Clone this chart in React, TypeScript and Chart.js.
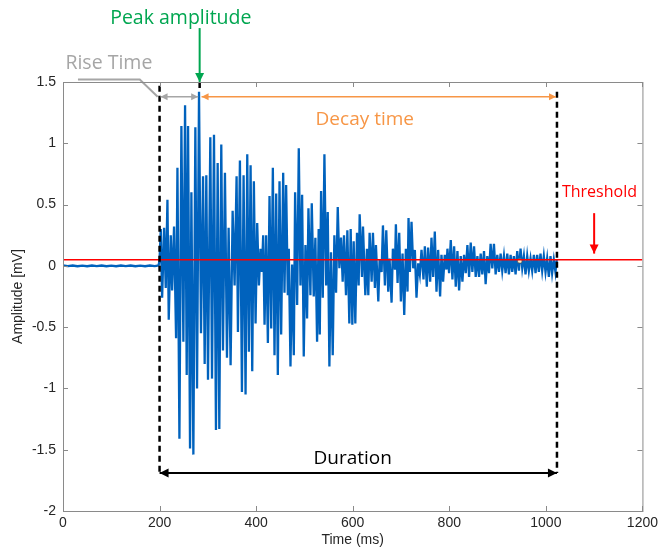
import { useEffect, useRef } from "react"
import { Chart, registerables } from "chart.js"

Chart.register(...registerables)

// waveform samples (time in ms, amplitude in mV)
const timeMs = [
  0, 10, 20, 30, 40, 50, 60, 70, 80, 90, 100, 110, 120, 130, 140, 150, 160, 170, 180, 190, 198, 200,
  202.5, 205.3, 209.4, 212.8, 216.3, 219.0, 223.2, 226.0, 230.0, 234.2, 237.0, 241.1, 245.2, 249.3,
  252.8, 256.2, 259.0, 263.1, 265.9, 270.0, 274.1, 277.6, 281.7, 285.8, 290.0, 293.4, 296.8, 300.3,
  305.1, 308.6, 312.7, 316.8, 320.3, 323.7, 327.8, 331.3, 335.4, 339.6, 343.0, 347.1, 351.3, 355.4,
  359.5, 362.3,
  366.4, 370.6, 374.0, 378.1, 381.6, 385.0, 388.5, 391.9, 395.3, 398.8, 402.2, 405.7, 409.1, 411.9,
  414.6, 417.4, 420.8, 424.3, 427.7, 431.2, 434.6, 438.0, 441.5, 444.9, 448.4, 451.8, 456.0, 458.7,
  462.1, 465.6, 467.6, 471.1, 474.5, 478.0, 480.7, 484.9, 488.3, 491.8, 495.2, 498.6, 502.1, 505.5,
  508.3, 512.4, 515.2, 519.3, 522.7, 526.2,
  529.5, 531.8, 534.5, 538.0, 541.4, 545.0, 548.3, 551.7, 555.0, 558.6, 562.0, 565.5, 569.0, 572.4,
  575.8, 579.2, 582.0, 586.1, 588.9, 593.0, 595.8, 599.2, 602.0, 605.4, 608.9, 612.3, 614.4, 619.2,
  621.3, 626.1, 629.5, 632.3, 635.0, 639.2, 641.9, 646.0, 648.1, 653.0, 655.7, 659.8, 662.6, 666.7,
  669.5, 673.6, 676.3, 680.5, 683.2, 687.4, 689.4, 692.9, 696.3,
  699.8, 703.2, 706.7, 710.1, 713.5, 715.6, 718.4, 721.8, 725.3, 728.7, 732.1, 735.6, 739.0, 742.5,
  746.6, 749.4, 753.5, 756.2, 760.4, 763.1, 766.6, 770.0, 773.5, 776.9, 781.0, 783.8, 787.2, 790.7,
  794.1, 796.2, 799.6, 803.1, 806.5, 810.0, 813.4, 816.9, 820.3, 823.7, 827.2, 830.6, 834.1, 837.5,
  841.0, 844.4, 847.8, 851.3, 854.7, 858.2,
  861.6, 865.0, 868.4, 871.9, 875.3, 878.7, 882.2, 885.6, 889.1, 892.5, 896.0, 899.4, 902.9, 906.3,
  909.7, 913.2, 916.6, 920.1, 923.5, 927.0, 930.4, 933.8, 937.3, 940.7, 944.2, 947.6, 951.1, 954.5,
  957.9, 961.4, 964.8, 968.3, 971.7, 975.2, 978.6, 982.1, 985.5, 988.9, 992.4, 995.8, 999.3, 1002.7,
  1006.2, 1009.6, 1013.0, 1016.5, 1019.9, 1022.5,
]

const amplitudeMv = [
  0.003, -0.002, 0.003, -0.003, 0.002, -0.003, 0.003, -0.002, 0.003, -0.003, 0.002, -0.003, 0.003,
  -0.002, 0.003, -0.003, 0.002, -0.003, 0.003, -0.002, 0.003, 0.05,
  0.30, -0.26, 0.31, -0.18, 0.54, -0.44, 0.25, -0.20, 0.32, -0.59, 0.80, -1.41, 1.14, -0.62,
  1.31, -0.89, 1.14, -1.49, 0.60, -1.54, 1.13, -1.00, 1.42, -0.55, 0.73, -0.80, 0.74, -0.93,
  1.05, -0.92, 1.07, -1.34, 0.84, -1.33, 0.99, -0.69, 0.76, -0.75, 0.31, -0.81, 0.45, -0.16,
  0.73, -0.54,
  0.86, -1.03, 0.74, -1.05, 0.91, -0.70, 0.82, -0.86, 0.69, -0.47, 0.35, -0.16, 0.14, -0.05,
  0.25, -0.48, 0.25, -0.63, 0.57, -0.51, 0.80, -0.73, 0.59, -0.89, 0.69, -0.56, 0.76, -0.22,
  0.66, -0.24, 0.14, -0.82, 0.01, -0.73, 0.60, -0.32, 0.96, -0.16, 0.58, -0.74, 0.17, -0.43,
  0.47, -0.24, 0.51, -0.25, 0.23, -0.62,
  0.30, -0.56, 0.61, -0.26, 0.91, -0.16, 0.44, -0.82, 0.11, -0.73, 0.25, -0.22, 0.48, -0.02,
  0.23, -0.13, 0.25, -0.24, 0.29, -0.47, 0.30, -0.48, 0.20, -0.47, 0.27, -0.16, 0.42, -0.09,
  0.32, -0.24, 0.14, -0.24, 0.27, -0.13, 0.27, -0.18, 0.17, -0.29, 0.05, -0.05, 0.33, -0.16,
  0.29, -0.21, 0.06, -0.30, 0.14, -0.03, 0.34, -0.14, 0.27,
  -0.29, 0.10, -0.40, 0.14, -0.21, 0.39, -0.05, 0.36, -0.02, 0.13, -0.26, 0.02, -0.07, 0.13,
  -0.11, 0.16, -0.17, 0.15, -0.13, 0.23, -0.09, 0.28, -0.21, 0.13, -0.25, 0.09, -0.13, 0.09,
  -0.03, 0.14, -0.06, 0.21, -0.11, 0.16, -0.17, 0.12, -0.20, 0.08, -0.13, 0.09, -0.06, 0.17,
  -0.09, 0.19, -0.05, 0.16, -0.09, 0.08,
  -0.09, 0.10, -0.07, 0.12, -0.15, 0.08, -0.06, 0.18, -0.02, 0.18, -0.07, 0.09, -0.05, 0.10,
  -0.04, 0.08, -0.06, 0.10, -0.07, 0.09, -0.05, 0.08, -0.07, 0.12, -0.04, 0.14, -0.02, 0.08,
  -0.07, 0.08, -0.04, 0.06, -0.04, 0.09, -0.06, 0.09, -0.05, 0.10, -0.04, 0.08, -0.05, 0.06,
  -0.09, 0.08, -0.06, 0.05, -0.05, 0.05,
]

const thresholdMv = 0.05
const xRange = [0, 1200]
const yRange = [-2, 1.5]

// event markers (ms / mV)
const startMs = 200
const peakMs = 283
const endMs = 1023
const peakMv = 1.42
const markerPoint = { x: 946, y: 0.04 }

const axisColor = "#8a8a8a"
const labelColor = "#262626"
const blue = "#0062bd"
const green = "#00a650"
const gray = "#a6a6a6"
const orange = "#f79646"
const red = "#ff0000"
const textFont = "'Open Sans', 'Noto Sans', sans-serif"
const axisFont = "'Liberation Sans', Arial, sans-serif"

function arrowHead(ctx: CanvasRenderingContext2D, x1: number, y1: number, x2: number, y2: number, len: number, half: number) {
  const a = Math.atan2(y2 - y1, x2 - x1)
  ctx.beginPath()
  ctx.moveTo(x2, y2)
  ctx.lineTo(x2 - len * Math.cos(a) + half * Math.sin(a), y2 - len * Math.sin(a) - half * Math.cos(a))
  ctx.lineTo(x2 - len * Math.cos(a) - half * Math.sin(a), y2 - len * Math.sin(a) + half * Math.cos(a))
  ctx.closePath()
  ctx.fill()
}

function arrow(ctx: CanvasRenderingContext2D, x1: number, y1: number, x2: number, y2: number, color: string, width: number, both: boolean, len = 8, half = 4) {
  ctx.save()
  ctx.strokeStyle = color
  ctx.fillStyle = color
  ctx.lineWidth = width
  ctx.setLineDash([])
  ctx.beginPath()
  ctx.moveTo(x1, y1)
  ctx.lineTo(x2, y2)
  ctx.stroke()
  arrowHead(ctx, x1, y1, x2, y2, len, half)
  if (both) arrowHead(ctx, x2, y2, x1, y1, len, half)
  ctx.restore()
}

function label(ctx: CanvasRenderingContext2D, text: string, x: number, y: number, color: string, size: number) {
  ctx.save()
  ctx.fillStyle = color
  ctx.font = `${size}px ${textFont}`
  ctx.textAlign = "center"
  ctx.textBaseline = "middle"
  ctx.fillText(text, x, y)
  ctx.restore()
}

const annotations = {
  id: "aeAnnotations",
  afterDatasetsDraw(chart: Chart) {
    const { ctx } = chart
    const x = chart.scales.x
    const y = chart.scales.y
    const px = (v: number) => x.getPixelForValue(v)
    const py = (v: number) => y.getPixelForValue(v)

    // dashed markers
    ctx.save()
    ctx.strokeStyle = "#000"
    ctx.lineWidth = 2.5
    ctx.setLineDash([6, 4])
    ctx.beginPath()
    ctx.moveTo(px(startMs), py(1.47))
    ctx.lineTo(px(startMs), py(-1.69))
    ctx.moveTo(px(endMs), py(1.42))
    ctx.lineTo(px(endMs), py(-1.69))
    ctx.moveTo(px(peakMs), py(1.5))
    ctx.lineTo(px(peakMs), py(peakMv))
    ctx.stroke()
    ctx.restore()

    // rise time
    ctx.save()
    ctx.strokeStyle = gray
    ctx.lineWidth = 2
    ctx.beginPath()
    ctx.moveTo(px(31), py(1.52))
    ctx.lineTo(px(159), py(1.52))
    ctx.lineTo(px(196), py(1.38))
    ctx.stroke()
    ctx.restore()
    arrow(ctx, px(startMs + 2), py(1.38), px(peakMs - 3), py(1.38), gray, 1.5, true, 7, 3.5)
    label(ctx, "Rise Time", px(95), py(1.65), gray, 19.5)

    // decay time
    arrow(ctx, px(peakMs + 4), py(1.38), px(endMs - 2), py(1.38), orange, 1.5, true, 7, 3.5)
    label(ctx, "Decay time", px(625), py(1.19), orange, 19)

    // peak amplitude
    arrow(ctx, px(peakMs), py(1.94), px(peakMs), py(1.5), green, 2, false, 9, 4.5)
    label(ctx, "Peak amplitude", px(244), py(2.02), green, 19.5)

    // threshold
    arrow(ctx, px(1100), py(0.43), px(1100), py(0.1), red, 2, false, 9, 4.5)
    label(ctx, "Threshold", px(1111), py(0.595), red, 16)

    // duration
    arrow(ctx, px(startMs), py(-1.69), px(endMs), py(-1.69), "#000", 2, true, 9, 4.5)
    label(ctx, "Duration", px(600), py(-1.575), "#000", 19)
  },
  afterDraw(chart: Chart) {
    const { ctx, chartArea: a } = chart
    const x = chart.scales.x
    const y = chart.scales.y
    ctx.save()
    ctx.strokeStyle = axisColor
    ctx.lineWidth = 1
    ctx.strokeRect(a.left + 0.5, a.top + 0.5, a.right - a.left, a.bottom - a.top)
    ctx.beginPath()
    x.ticks.forEach((t) => {
      const p = Math.round(x.getPixelForValue(t.value)) + 0.5
      ctx.moveTo(p, a.bottom)
      ctx.lineTo(p, a.bottom - 5)
      ctx.moveTo(p, a.top)
      ctx.lineTo(p, a.top + 5)
    })
    y.ticks.forEach((t) => {
      const p = Math.round(y.getPixelForValue(t.value)) + 0.5
      ctx.moveTo(a.left, p)
      ctx.lineTo(a.left + 5, p)
      ctx.moveTo(a.right, p)
      ctx.lineTo(a.right - 5, p)
    })
    ctx.stroke()
    ctx.restore()
  },
}

export default function App() {
  const chartRef = useRef<HTMLCanvasElement>(null)
  const chartInstance = useRef<Chart | null>(null)

  useEffect(() => {
    document.body.style.margin = "0"
    if (!chartRef.current) return
    if (chartInstance.current) chartInstance.current.destroy()

    const ctx = chartRef.current.getContext("2d")
    if (!ctx) return

    const wave = timeMs.map((t, i) => ({ x: t, y: amplitudeMv[i] }))

    chartInstance.current = new Chart(ctx, {
      type: "line",
      data: {
        datasets: [
          {
            label: "Threshold",
            data: [
              { x: xRange[0], y: thresholdMv },
              { x: xRange[1], y: thresholdMv },
            ],
            borderColor: red,
            borderWidth: 1.6,
            pointRadius: 0,
          },
          {
            label: "Marker",
            data: [markerPoint],
            showLine: false,
            pointStyle: "rectRounded",
            pointRadius: 2.5,
            pointBackgroundColor: "#fff6cc",
            pointBorderColor: "#555",
            pointBorderWidth: 0.8,
          },
          {
            label: "Signal",
            data: wave,
            borderColor: blue,
            borderWidth: 2.3,
            pointRadius: 0,
            tension: 0,
          },
        ],
      },
      options: {
        animation: false,
        responsive: true,
        maintainAspectRatio: false,
        layout: { padding: { left: 0, right: 19, top: 82, bottom: 0 } },
        plugins: {
          legend: { display: false },
          tooltip: { enabled: false },
        },
        scales: {
          x: {
            type: "linear",
            min: xRange[0],
            max: xRange[1],
            afterFit: (s) => {
              s.height = 44
            },
            grid: { display: false, drawTicks: false },
            border: { display: false },
            ticks: {
              stepSize: 200,
              color: labelColor,
              padding: 4,
              maxRotation: 0,
              font: { family: axisFont, size: 14 },
              callback: (v) => String(v),
            },
            title: {
              display: true,
              text: "Time (ms)",
              color: labelColor,
              font: { family: axisFont, size: 14 },
              padding: { top: 0, bottom: 6 },
            },
          },
          y: {
            min: yRange[0],
            max: yRange[1],
            afterFit: (s) => {
              s.width = 63
            },
            grid: { display: false, drawTicks: false },
            border: { display: false },
            ticks: {
              stepSize: 0.5,
              color: labelColor,
              padding: 7,
              font: { family: axisFont, size: 14 },
              callback: (v) => String(v),
            },
            title: {
              display: true,
              text: "Amplitude [mV]",
              color: labelColor,
              font: { family: axisFont, size: 14 },
              padding: { top: 10, bottom: 0 },
            },
          },
        },
      },
      plugins: [annotations],
    })

    return () => {
      if (chartInstance.current) {
        chartInstance.current.destroy()
        chartInstance.current = null
      }
    }
  }, [])

  return (
    <div style={{ width: 662, height: 555, position: "relative" }}>
      <canvas ref={chartRef} />
    </div>
  )
}
